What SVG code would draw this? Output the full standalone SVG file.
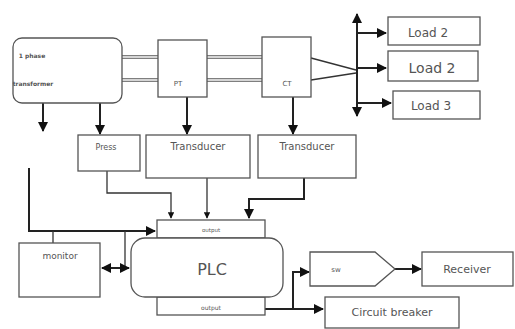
<svg xmlns="http://www.w3.org/2000/svg" width="515" height="329" viewBox="0 0 515 329">
<defs>
<style>
.box{fill:#fff;stroke:#555;stroke-width:1.3}
.t{font-family:"DejaVu Sans",sans-serif;fill:#555;text-anchor:middle}
.c{fill:none;stroke:#222;stroke-width:2}
.cl{fill:none;stroke:#333;stroke-width:1.3}
.dbl{fill:none;stroke:#555;stroke-width:3.6}
.dbli{fill:none;stroke:#fff;stroke-width:1.4}
</style>
<marker id="ah" viewBox="0 0 10 10" refX="9" refY="5" markerWidth="5" markerHeight="5" orient="auto-start-reverse">
<path d="M0,0 L10,5 L0,10 z" fill="#111"/>
</marker>
</defs>
<rect width="515" height="329" fill="#fff"/>
<g id="connectors">
<path class="dbl" d="M122,57 H158 M122,80 H158 M207,57 H262 M207,80 H262"/>
<path class="dbli" d="M122,57 H158 M122,80 H158 M207,57 H262 M207,80 H262"/>
<path class="cl" d="M311,58 L356,70 M311,80 L356,73"/>
<path class="c" d="M357,14 V116" marker-start="url(#ah)" marker-end="url(#ah)"/>
<path class="c" d="M357,33 H386" marker-end="url(#ah)"/>
<path class="c" d="M357,68 H386" marker-end="url(#ah)"/>
<path class="c" d="M357,103 H391" marker-end="url(#ah)"/>
<path class="c" d="M43,103 V131" marker-end="url(#ah)"/>
<path class="c" d="M100,103 V134" marker-end="url(#ah)"/>
<path class="c" d="M187,97 V134" marker-end="url(#ah)"/>
<path class="c" d="M293,97 V134" marker-end="url(#ah)"/>
<path class="cl" d="M107,171 V193 H171 V218" marker-end="url(#ah)"/>
<path class="cl" d="M207,178 V218" marker-end="url(#ah)"/>
<path class="c" d="M304,178 V199 H249 V218" marker-end="url(#ah)"/>
<path class="c" d="M29,168 V231 H155" marker-end="url(#ah)"/>
<path class="cl" d="M53,231 V243"/>
<path class="cl" d="M125,231 V268"/>
<path class="c" d="M102,268 H129" marker-start="url(#ah)" marker-end="url(#ah)"/>
<path class="c" d="M264,309 H293 V272 H309" marker-end="url(#ah)"/>
<path class="c" d="M293,309 H323" marker-end="url(#ah)"/>
<path class="c" d="M395,269 H421" marker-end="url(#ah)"/>
</g>
<g id="transformer">
<rect class="box" x="13" y="38" width="109" height="65" rx="9"/>
<text class="t" x="32" y="58" font-size="6" font-weight="bold" text-anchor="start">1 phase</text>
<text class="t" x="33" y="86" font-size="6" font-weight="bold" text-anchor="start">transformer</text>
</g>
<g id="pt">
<rect class="box" x="158" y="40" width="49" height="57"/>
<text class="t" x="178" y="86" font-size="7">PT</text>
</g>
<g id="ct">
<rect class="box" x="262" y="37" width="49" height="60"/>
<text class="t" x="287" y="86" font-size="7">CT</text>
</g>
<g id="load1">
<rect class="box" x="388" y="17" width="92" height="28"/>
<text class="t" x="428" y="37" font-size="12">Load 2</text>
</g>
<g id="load2">
<rect class="box" x="388" y="51" width="90" height="30"/>
<text class="t" x="432" y="73" font-size="14">Load 2</text>
</g>
<g id="load3">
<rect class="box" x="393" y="91" width="87" height="28"/>
<text class="t" x="431" y="110" font-size="12">Load 3</text>
</g>
<g id="press">
<rect class="box" x="78" y="135" width="62" height="36"/>
<text class="t" x="106" y="150" font-size="8">Press</text>
</g>
<g id="transducer1">
<rect class="box" x="146" y="135" width="104" height="43"/>
<text class="t" x="198" y="150" font-size="10">Transducer</text>
</g>
<g id="transducer2">
<rect class="box" x="258" y="135" width="98" height="43"/>
<text class="t" x="307" y="150" font-size="10">Transducer</text>
</g>
<g id="monitor">
<rect class="box" x="19" y="243" width="81" height="54"/>
<text class="t" x="60" y="259" font-size="9">monitor</text>
</g>
<g id="plc">
<rect class="box" x="157" y="220" width="108" height="18"/>
<text class="t" x="211" y="232" font-size="5.5">output</text>
<rect class="box" x="157" y="297" width="108" height="18"/>
<text class="t" x="211" y="310" font-size="6">output</text>
<rect class="box" x="131" y="238" width="152" height="59" rx="14"/>
<text class="t" x="212" y="275" font-size="16">PLC</text>
</g>
<g id="sw">
<path class="box" d="M310,252 H375 L395,269 L375,286 H310 Z"/>
<text class="t" x="336" y="272" font-size="7">sw</text>
</g>
<g id="receiver">
<rect class="box" x="422" y="252" width="91" height="34"/>
<text class="t" x="467" y="273" font-size="11">Receiver</text>
</g>
<g id="breaker">
<rect class="box" x="325" y="297" width="134" height="31"/>
<text class="t" x="392" y="316" font-size="11">Circuit breaker</text>
</g>
</svg>
